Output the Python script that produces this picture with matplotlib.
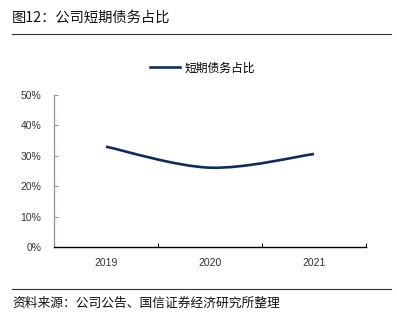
import numpy as np
import matplotlib.pyplot as plt
from matplotlib.path import Path
from matplotlib.patches import PathPatch
from matplotlib.lines import Line2D

plt.rcParams['font.family'] = ['Noto Sans CJK SC', 'DejaVu Sans']

# data
years = ['2019', '2020', '2021']
ratio = [33.0, 26.1, 30.6]   # %
yticks = [0, 10, 20, 30, 40, 50]

title = '图12：公司短期债务占比'
series_name = '短期债务占比'
source = '资料来源：公司公告、国信证券经济研究所整理'
navy = '#0f2d5c'

fig = plt.figure(figsize=(3.97, 3.23), dpi=100)
ax = fig.add_axes([0.136, 0.235, 0.786, 0.471])

# smoothed line, Excel-style bezier through the data points
x = np.arange(len(years), dtype=float)
y = np.array(ratio)
verts = [(x[0], y[0])]
codes = [Path.MOVETO]
for i in range(len(x) - 1):
    xp, yp = (x[i - 1], y[i - 1]) if i > 0 else (x[i], y[i])
    xn, yn = (x[i + 2], y[i + 2]) if i + 2 < len(x) else (x[i + 1], y[i + 1])
    c1 = (x[i] + (x[i + 1] - xp) / 6, y[i] + (y[i + 1] - yp) / 6)
    c2 = (x[i + 1] - (xn - x[i]) / 6, y[i + 1] - (yn - y[i]) / 6)
    verts += [c1, c2, (x[i + 1], y[i + 1])]
    codes += [Path.CURVE4] * 3
ax.add_patch(PathPatch(Path(verts, codes), fill=False, edgecolor=navy, lw=1.9,
                       capstyle='butt'))

ax.set_xlim(-0.5, len(years) - 0.5)
ax.set_ylim(0, 50)
ax.set_xticks(x)
ax.set_xticklabels(years, family=['Liberation Sans', 'DejaVu Sans'], fontsize=7.5,
                   color='#333333')
ax.set_xticks(np.arange(-0.5, len(years)), minor=True)
ax.tick_params(axis='x', which='major', length=0, pad=8)
ax.tick_params(axis='x', which='minor', direction='in', length=3, width=0.8)
ax.set_yticks(yticks)
ax.set_yticklabels([f'{v}%' for v in yticks], family=['Liberation Sans', 'DejaVu Sans'],
                   fontsize=7.5, color='#333333')
ax.tick_params(axis='y', direction='in', length=3, width=0.8, color='#8a9ab0', pad=9)

for s in ['top', 'right']:
    ax.spines[s].set_visible(False)
ax.spines['left'].set_color('#8a9ab0')
ax.spines['left'].set_linewidth(1.0)
ax.spines['bottom'].set_color('black')
ax.spines['bottom'].set_linewidth(1.0)

# legend
handle = Line2D([], [], color=navy, lw=1.9)
fig.legend([handle], [series_name], loc='center', bbox_to_anchor=(0.51, 1 - 68 / 323),
           frameon=False, fontsize=8.5, handlelength=2.6, handletextpad=0.4)

# title, rules, source
fig.text(12 / 397, 1 - 18 / 323, title, fontsize=10.3, va='center', ha='left', color='#111111')
fig.add_artist(Line2D([12 / 397, 391 / 397], [1 - 34 / 323] * 2, color='#333333', lw=0.8))
fig.add_artist(Line2D([12 / 397, 391 / 397], [1 - 289 / 323] * 2, color='#333333', lw=0.8))
fig.text(12 / 397, 1 - 303 / 323, source, fontsize=9.2, va='center', ha='left', color='#111111')

fig.savefig('out.png', dpi=100)
